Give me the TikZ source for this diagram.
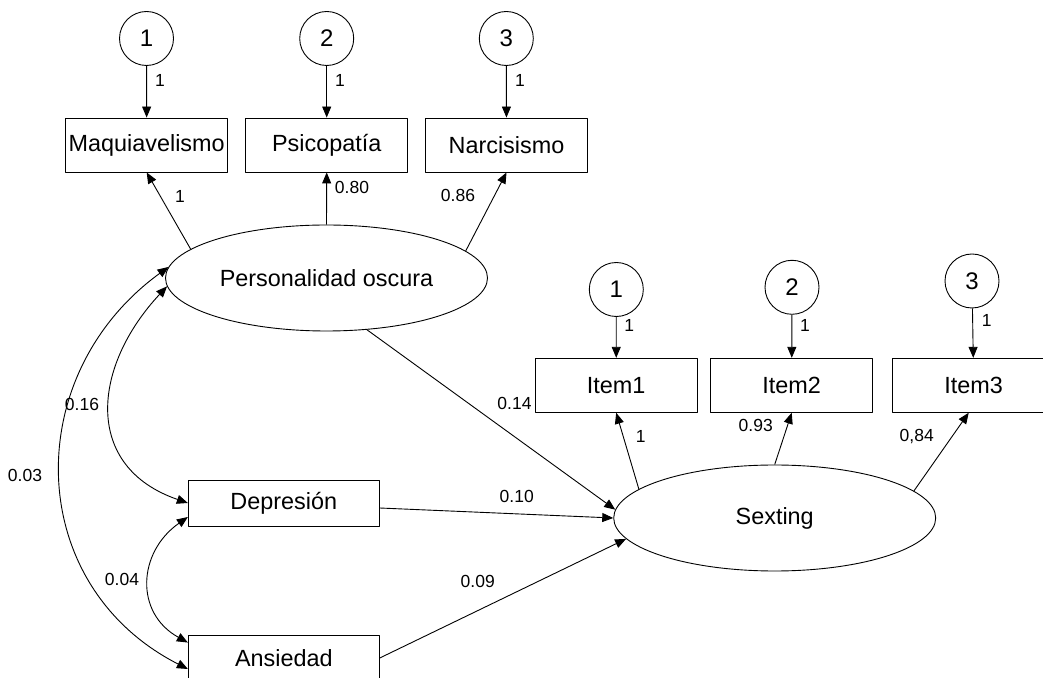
\documentclass[tikz,border=0pt]{standalone}
\usepackage{fontspec}
\setmainfont{Liberation Sans}
\usetikzlibrary{arrows.meta,shapes.geometric}
\begin{document}
\begin{tikzpicture}[x=1pt, y=1pt, line width=0.9pt, line join=round, >={Triangle[length=11pt,width=9pt]},
  obs/.style={draw, rectangle, minimum width=162pt, minimum height=54pt, inner sep=0pt, font=\fontsize{23.4}{27}\selectfont},
  obsw/.style={obs, minimum width=191pt, minimum height=46pt},
  lat/.style={draw, ellipse, minimum width=322pt, minimum height=106pt, inner sep=0pt, font=\fontsize{23.4}{27}\selectfont},
  err/.style={draw, circle, minimum size=54pt, inner sep=0pt, font=\fontsize{24}{28}\selectfont},
  coef/.style={font=\fontsize{17.5}{20}\selectfont, inner sep=1pt}]
\useasboundingbox (0,0) rectangle (1043,677);
\clip (0,0) rectangle (1043,677);
% latent variables
\node[lat] (po) at (326.5,399) {Personalidad oscura};
\node[lat] (sx) at (774.7,159) {Sexting};
% observed variables
\node[obs] (maq) at (146.7,532) {Maquiavelismo};
\node[obs] (psi) at (326.7,532) {Psicopatía};
\node[obs] (nar) at (506.5,532) {Narcisismo};
\node[obs] (it1) at (616.2,291.7) {Item1};
\node[obs] (it2) at (791.7,291.7) {Item2};
\node[obs] (it3) at (973.7,291.7) {Item3};
\node[obsw] (dep) at (283.8,174) {Depresión};
\node[obsw] (ans) at (283.8,19) {Ansiedad};
% errors
\node[err] (e1) at (146.5,638.5) {1};
\node[err] (e2) at (326.7,638.5) {2};
\node[err] (e3) at (506.3,638.5) {3};
\node[err] (d1) at (616.3,387.5) {1};
\node[err] (d2) at (792,389.7) {2};
\node[err] (d3) at (972,396) {3};
\draw[->] (e1) -- (maq); \draw[->] (e2) -- (psi); \draw[->] (e3) -- (nar);
\draw[->] (d1) -- (it1); \draw[->] (d2) -- (it2); \draw[->] (d3) -- (it3);
% loadings
\draw[->] (po.168) -- (maq.south);
\draw[->] (po.north) -- (psi.south);
\draw[->] (po.11) -- (nar.south);
\draw[->] (sx.168) -- (it1.south);
\draw[->] (sx.north) -- (it2.south);
\draw[->] (sx.11) -- ([xshift=-5pt]it3.south);
% regressions
\draw[->] (po.308) -- (sx.177);
\draw[->] ([yshift=-5pt]dep.east) -- (sx.west);
\draw[->] (ans.east) -- (sx.188);
% covariances
\draw[<->] (po.183) to[out=227, in=161, looseness=1.3] (dep.west);
\draw[<->] (po.176) to[out=216, in=153, looseness=1.17] ([yshift=-11pt]ans.west);
\draw[<->] ([yshift=-14pt]dep.west) to[out=215, in=151, looseness=1.25] ([yshift=-8pt]ans.north west);
% coefficients
\node[coef] (c1) at (160,597) {1}; \node[coef] (c2) at (340,597) {1}; \node[coef] (c3) at (520,597) {1};
\node[coef] (lmaq) at (180,481) {1}; \node[coef] (lpsi) at (352,490) {0.80}; \node[coef] (lnar) at (458,482) {0.86};
\node[coef] (k1) at (629.3,352) {1}; \node[coef] (k2) at (805,352) {1}; \node[coef] (k3) at (986.7,357) {1};
\node[coef] (lit1) at (640.7,240.3) {1}; \node[coef] (lit2) at (755.7,251.3) {0.93}; \node[coef] (lit3) at (916.7,240.3) {0,84};
\node[coef] (rpo) at (514.5,273.7) {0.14}; \node[coef] (rdep) at (516.7,181) {0.10}; \node[coef] (rans) at (477.7,96) {0.09};
\node[coef] (cpd) at (82,273) {0.16}; \node[coef] (cpa) at (25,202) {0.03}; \node[coef] (cda) at (122,98) {0.04};
\end{tikzpicture}
\end{document}
